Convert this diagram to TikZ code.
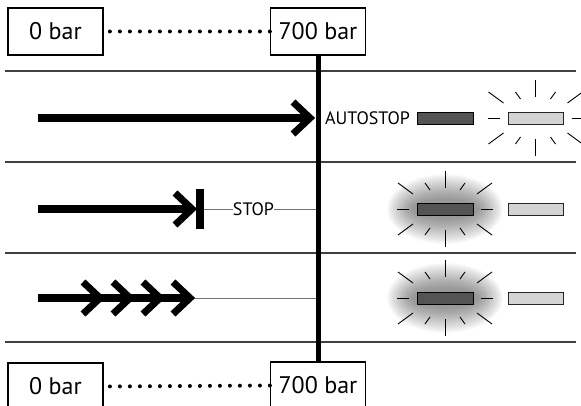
\documentclass[tikz,border=0pt]{standalone}
\usepackage{fontspec}
\setmainfont{PT Sans}
\begin{document}
\begin{tikzpicture}[x=1pt,y=-1pt,
  box/.style={draw, line width=1.2pt, minimum width=95pt, minimum height=47pt, inner sep=0pt, font=\fontsize{24}{28}\selectfont},
  rowline/.style={line width=1.2pt, draw=black!75},
  thinline/.style={line width=0.7pt, draw=black!55},
  shaft/.style={line width=7.5pt},
  chev/.style={line width=7pt, line join=miter},
  dots/.style={line width=4pt, line cap=round, dash pattern=on 0pt off 10pt, shorten >=5pt},
  ledd/.style={draw, line width=0.8pt, fill=black!67, minimum width=56pt, minimum height=12pt, inner sep=0pt},
  ledl/.style={draw=black!85, line width=0.8pt, fill=black!17, minimum width=55pt, minimum height=12pt, inner sep=0pt},
  ray/.style={line width=0.9pt},
  lbl/.style={font=\fontsize{18}{20}\selectfont, inner sep=0pt},
  rays/.pic={
    \foreach \xa/\ya/\xb/\yb in {-48/0/-36/0, 36/0/48/0, 0/-38/0/-21, 0/21/0/38,
      -47/-26/-32/-15, 47/-26/32/-15, -47/26/-32/15, 47/26/32/15,
      -20/-26/-15/-19, 20/-26/15/-19, -20/26/-15/19, 20/26/15/19}
      \draw[ray] (\xa,\ya) -- (\xb,\yb);
  }
]
\useasboundingbox (0,0) rectangle (581,406);
\clip (0,0) rectangle (581,406);

% glows
\foreach \cy in {209,298} {
  \foreach \i in {1,...,26} {
    \pgfmathsetmacro\g{\i*1.0}
    \fill[black, opacity=0.018] (445,\cy) ellipse [x radius=32+\g, y radius=9+\g];
  }
}

% row separators
\draw[rowline] (5,71) -- (576,71);
\draw[rowline] (5,162) -- (576,162);
\draw[rowline] (5,253) -- (576,253);
\draw[rowline] (5,342) -- (576,342);

% pressure boxes
\node[box] (t0) at (55.5,31.5) {0 bar};
\node[box] (t7) at (318,31.5) {700 bar};
\node[box] (b0) at (55.5,386.5) {0 bar};
\node[box] (b7) at (318,385.5) {700 bar};
\draw[dots] (t7.west) -- (t0.east);
\draw[dots] (b7.west) -- (b0.east);

% vertical limit line
\draw[line width=5pt] (t7.south) -- (b7.north);
\coordinate (v2) at (315.5,209);
\coordinate (v3) at (315.5,298);

% row 1
\coordinate (a1s) at (38,118);
\coordinate (a1t) at (310,118);
\draw[shaft] (a1s) -- (a1t);
\draw[chev] ([shift={(-17,-16)}]a1t) -- (a1t) -- ([shift={(-17,16)}]a1t);
\node[lbl, anchor=west] (auto) at (325,118) {AUTOSTOP};
\node[ledd] (d1) at (445,118) {};
\node[ledl] (l1) at (535.5,118) {};
\pic at (l1) {rays};

% row 2
\coordinate (a2s) at (38,209);
\coordinate (a2t) at (192,209);
\coordinate (bar2a) at (200,189);
\coordinate (bar2b) at (200,229);
\coordinate (bar2r) at (204,209);
\draw[shaft] (a2s) -- (a2t);
\draw[chev] ([shift={(-17,-16)}]a2t) -- (a2t) -- ([shift={(-17,16)}]a2t);
\draw[line width=8pt] (bar2a) -- (bar2b);
\node[lbl] (stop) at (253.5,209) {STOP};
\draw[thinline] (bar2r) -- (stop.west);
\draw[thinline] (stop.east) -- (v2);
\node[ledd] (d2) at (445,209) {};
\pic at (d2) {rays};
\node[ledl] (l2) at (535.5,209) {};

% row 3
\coordinate (a3s) at (38,298);
\coordinate (a3t) at (190,298);
\coordinate (a3e) at (195,298);
\draw[shaft] (a3s) -- (a3t);
\foreach \tx in {100,130,160,190}
  \draw[chev] (\tx-17,298-16) -- (\tx,298) -- (\tx-17,298+16);
\draw[thinline] (a3e) -- (v3);
\node[ledd] (d3) at (445,298) {};
\pic at (d3) {rays};
\node[ledl] (l3) at (535.5,298) {};
\end{tikzpicture}
\end{document}
